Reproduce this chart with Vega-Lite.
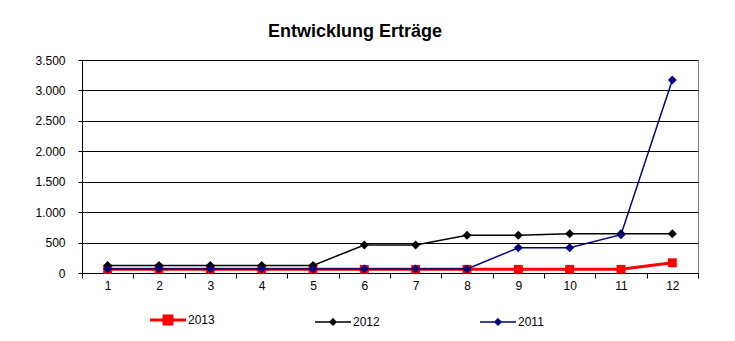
{
  "$schema": "https://vega.github.io/schema/vega-lite/v6.json",
  "autosize": "none",
  "width": 616,
  "height": 213,
  "padding": {"left": 82, "top": 60, "right": 37, "bottom": 68},
  "background": "white",
  "config": {
    "locale": {"number": {"decimal": ",", "thousands": ".", "grouping": [3], "currency": ["", " €"]}},
    "font": "Liberation Sans",
    "view": {"stroke": "#808080", "strokeWidth": 1},
    "axis": {"labelFont": "Liberation Sans", "labelFontSize": 12, "labelColor": "#000000", "domainColor": "#000000", "tickColor": "#000000", "titleFont": "Liberation Sans"}
  },
  "title": {"text": "Entwicklung Erträge", "font": "Liberation Sans", "fontSize": 18, "fontWeight": "bold", "color": "#000000", "anchor": "middle", "dx": -35, "offset": 13},
  "data": {"values": [
    {"Monat": 1, "Jahr": "2013", "Wert": 60},
    {"Monat": 2, "Jahr": "2013", "Wert": 60},
    {"Monat": 3, "Jahr": "2013", "Wert": 60},
    {"Monat": 4, "Jahr": "2013", "Wert": 60},
    {"Monat": 5, "Jahr": "2013", "Wert": 60},
    {"Monat": 6, "Jahr": "2013", "Wert": 60},
    {"Monat": 7, "Jahr": "2013", "Wert": 60},
    {"Monat": 8, "Jahr": "2013", "Wert": 60},
    {"Monat": 9, "Jahr": "2013", "Wert": 60},
    {"Monat": 10, "Jahr": "2013", "Wert": 60},
    {"Monat": 11, "Jahr": "2013", "Wert": 60},
    {"Monat": 12, "Jahr": "2013", "Wert": 168},
    {"Monat": 1, "Jahr": "2012", "Wert": 125},
    {"Monat": 2, "Jahr": "2012", "Wert": 125},
    {"Monat": 3, "Jahr": "2012", "Wert": 125},
    {"Monat": 4, "Jahr": "2012", "Wert": 125},
    {"Monat": 5, "Jahr": "2012", "Wert": 125},
    {"Monat": 6, "Jahr": "2012", "Wert": 460},
    {"Monat": 7, "Jahr": "2012", "Wert": 460},
    {"Monat": 8, "Jahr": "2012", "Wert": 620},
    {"Monat": 9, "Jahr": "2012", "Wert": 620},
    {"Monat": 10, "Jahr": "2012", "Wert": 645},
    {"Monat": 11, "Jahr": "2012", "Wert": 645},
    {"Monat": 12, "Jahr": "2012", "Wert": 645},
    {"Monat": 1, "Jahr": "2011", "Wert": 65},
    {"Monat": 2, "Jahr": "2011", "Wert": 65},
    {"Monat": 3, "Jahr": "2011", "Wert": 65},
    {"Monat": 4, "Jahr": "2011", "Wert": 65},
    {"Monat": 5, "Jahr": "2011", "Wert": 65},
    {"Monat": 6, "Jahr": "2011", "Wert": 65},
    {"Monat": 7, "Jahr": "2011", "Wert": 65},
    {"Monat": 8, "Jahr": "2011", "Wert": 65},
    {"Monat": 9, "Jahr": "2011", "Wert": 415},
    {"Monat": 10, "Jahr": "2011", "Wert": 415},
    {"Monat": 11, "Jahr": "2011", "Wert": 630},
    {"Monat": 12, "Jahr": "2011", "Wert": 3170}
  ]},
  "encoding": {
    "x": {
      "field": "Monat", "type": "quantitative",
      "scale": {"domain": [0.5, 12.5], "nice": false, "zero": false},
      "axis": {
        "title": null, "grid": false, "orient": "bottom",
        "values": [0.5, 1, 1.5, 2, 2.5, 3, 3.5, 4, 4.5, 5, 5.5, 6, 6.5, 7, 7.5, 8, 8.5, 9, 9.5, 10, 10.5, 11, 11.5, 12, 12.5],
        "labelExpr": "datum.value % 1 === 0 ? format(datum.value, 'd') : ''",
        "labelOverlap": false,
        "labelFlush": false,
        "tickSize": 5,
        "tickOpacity": {"condition": {"test": "datum.value % 1 === 0", "value": 0}, "value": 1},
        "labelPadding": 2
      }
    },
    "y": {
      "field": "Wert", "type": "quantitative",
      "scale": {"domain": [0, 3500], "nice": false},
      "axis": {
        "title": null, "values": [0, 500, 1000, 1500, 2000, 2500, 3000, 3500],
        "format": ",d", "grid": true, "gridColor": "#000000", "gridOpacity": 1,
        "tickSize": 4, "labelPadding": 13
      }
    },
    "color": {
      "field": "Jahr", "type": "nominal",
      "scale": {"domain": ["2013", "2012", "2011"], "range": ["#FF0000", "#000000", "#000080"]},
      "legend": {
        "title": null, "orient": "none", "direction": "horizontal",
        "legendX": 68, "legendY": 254,
        "columnPadding": 97,
        "labelFont": "Liberation Sans", "labelFontSize": 12, "labelColor": "#000000",
        "labelOffset": 3,
        "symbolSize": 1296,
        "encode": {
          "symbols": {
            "update": {
              "x": {"value": 18},
              "shape": {"signal": "datum.value === '2013' ? 'M-1,0H1M-0.22,-0.22H0.22V0.22H-0.22Z' : 'M-1,0H1M0,-0.17L0.17,0L0,0.17L-0.17,0Z'"},
              "fill": {"scale": "color", "field": "value"},
              "stroke": {"scale": "color", "field": "value"},
              "strokeWidth": {"signal": "datum.value === '2013' ? 3 : 1.5"},
              "size": {"value": 1296},
              "opacity": {"value": 1}
            }
          },
          "labels": {
            "update": {
              "x": {"value": 38}
            }
          }
        }
      }
    }
  },
  "layer": [
    {
      "transform": [{"filter": "datum.Jahr === '2013'"}],
      "mark": {"type": "line", "strokeWidth": 3, "point": {"shape": "square", "size": 80, "filled": true}}
    },
    {
      "transform": [{"filter": "datum.Jahr === '2012'"}],
      "mark": {"type": "line", "strokeWidth": 1.5, "point": {"shape": "diamond", "size": 80, "filled": true}}
    },
    {
      "transform": [{"filter": "datum.Jahr === '2011'"}],
      "mark": {"type": "line", "strokeWidth": 1.5, "point": {"shape": "diamond", "size": 80, "filled": true}}
    }
  ]
}
